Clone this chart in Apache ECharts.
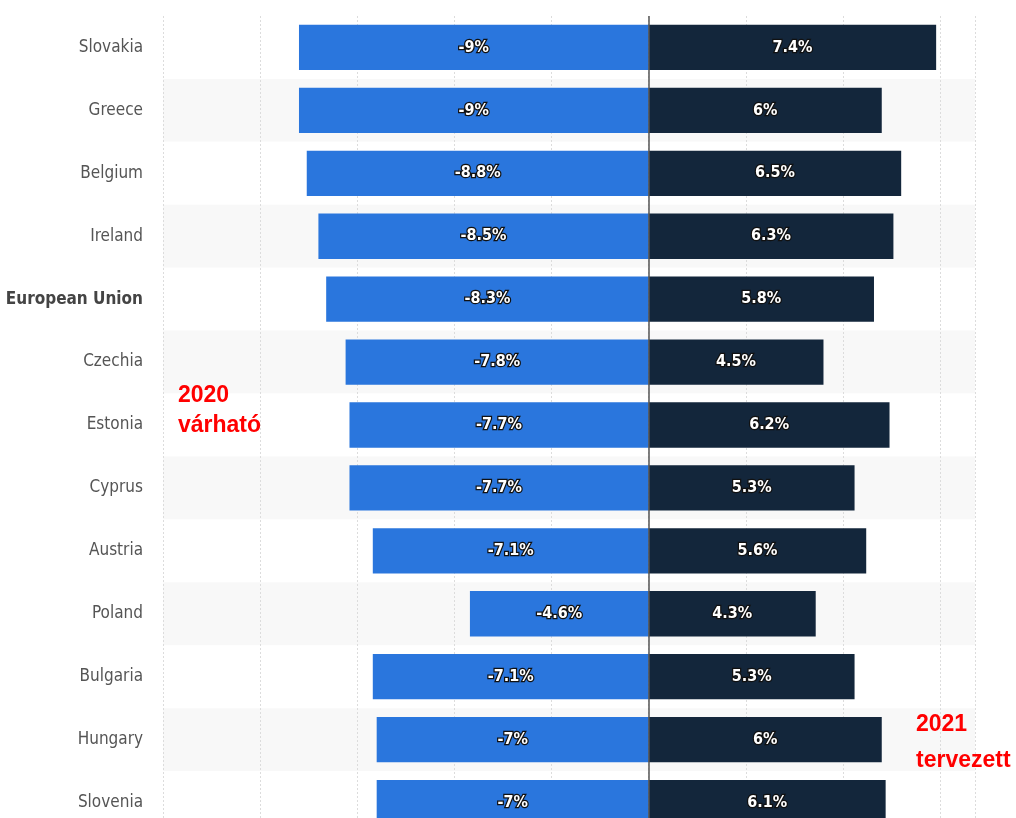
<!DOCTYPE html>
<html>
<head>
<meta charset="utf-8">
<script src="https://cdn.jsdelivr.net/npm/echarts@6/dist/echarts.min.js"></script>
<style>
    html, body {margin: 0; padding: 0; background: #fff;}
    #main {width: 1016px; height: 818px;}
</style>
</head>
<body>
<div id="main"></div>
<script>
// adatok
var countries = ['Slovakia', 'Greece', 'Belgium', 'Ireland', 'European Union', 'Czechia', 'Estonia',
    'Cyprus', 'Austria', 'Poland', 'Bulgaria', 'Hungary', 'Slovenia'];
var values2020 = [-9, -9, -8.8, -8.5, -8.3, -7.8, -7.7, -7.7, -7.1, -4.6, -7.1, -7, -7];
var values2021 = [7.4, 6, 6.5, 6.3, 5.8, 4.5, 6.2, 5.3, 5.6, 4.3, 5.3, 6, 6.1];

var narrow = '"Liberation Sans Narrow", "DejaVu Sans Condensed", "Liberation Sans", sans-serif';

var myChart = echarts.init(document.getElementById('main'));

var valueLabel = {
    show: true,
    position: 'inside',
    color: '#fff',
    fontFamily: narrow,
    fontWeight: 'bold',
    fontSize: 16,
    textBorderColor: '#111',
    textBorderWidth: 2.5,
    formatter: function (p) { return p.value + '%'; }
};

var option = {
    animation: false,
    grid: {left: 163, width: 812, top: 16, height: 818, outerBoundsMode: 'none', containLabel: false},
    xAxis: {
        type: 'value',
        min: -12.5,
        max: 8.4,
        interval: 2.5,
        axisLabel: {show: false},
        axisLine: {show: false},
        axisTick: {show: false},
        splitLine: {lineStyle: {color: '#dcdcdc', type: [2, 2], width: 1}}
    },
    yAxis: {
        type: 'category',
        inverse: true,
        data: countries,
        axisLine: {show: false},
        axisTick: {show: false},
        axisLabel: {
            margin: 20,
            color: '#555',
            fontSize: 17,
            fontFamily: narrow,
            formatter: function (v) {
                return v === 'European Union' ? '{b|' + v + '}' : v;
            },
            rich: {b: {fontWeight: 'bold', color: '#444', fontSize: 17, fontFamily: narrow}}
        },
        splitArea: {show: true, areaStyle: {color: ['#ffffff', '#f8f8f8']}}
    },
    series: [
        {
            name: '2020',
            type: 'bar',
            data: values2020,
            barWidth: '72%',
            barGap: '-100%',
            itemStyle: {color: '#2a76dd'},
            label: valueLabel,
            markLine: {
                silent: true,
                symbol: 'none',
                label: {show: false},
                lineStyle: {color: '#555', type: 'solid', width: 1.5},
                data: [{xAxis: 0}]
            }
        },
        {
            name: '2021',
            type: 'bar',
            data: values2021,
            barWidth: '72%',
            itemStyle: {color: '#13263b'},
            label: valueLabel
        }
    ],
    graphic: [
        {
            type: 'text', left: 178, top: 381, z: 100,
            style: {text: '2020\nvárható', fill: '#ff0000', font: 'bold 23px "Liberation Sans Narrow", "Liberation Sans", sans-serif', lineHeight: 30}
        },
        {
            type: 'text', left: 916, top: 707, z: 100,
            style: {text: '2021\ntervezett', fill: '#ff0000', font: 'bold 23px "Liberation Sans Narrow", "Liberation Sans", sans-serif', lineHeight: 36}
        }
    ]
};

myChart.setOption(option);
</script>
</body>
</html>
